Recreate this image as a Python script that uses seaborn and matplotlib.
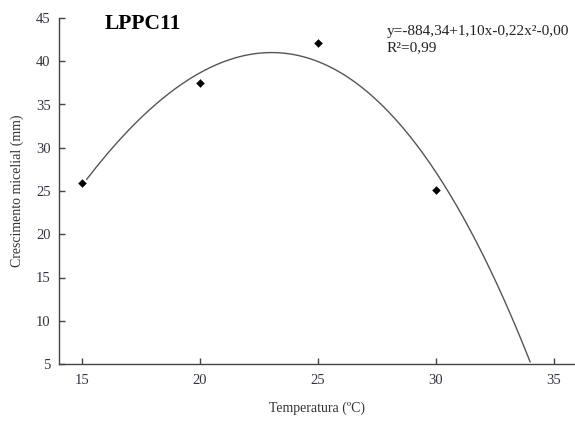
import numpy as np
import pandas as pd
import matplotlib
matplotlib.use("Agg")
import matplotlib.pyplot as plt
import seaborn as sns

temperatura = [15, 20, 25, 30]
crescimento = [25.9, 37.5, 42.1, 25.1]

# Fitted trend curve
curve_x = [15.2, 20.0, 22.67, 25.0, 30.0, 32.71, 34.0]
curve_y = [26.3, 38.8, 40.9, 39.9, 27.1, 13.9, 5.0]

x_ticks = [15, 20, 25, 30, 35]
y_ticks = [5, 10, 15, 20, 25, 30, 35, 40, 45]

title = "LPPC11"
equation = "y=-884,34+1,10x-0,22x²-0,00"
r2 = "R²=0,99"

sns.set_style("ticks")
plt.rcParams["font.family"] = ["Liberation Serif", "DejaVu Serif"]

fig = plt.figure(figsize=(5.75, 4.23), dpi=100)
ax = fig.add_axes([59/575, 1-364/423, 1-59/575, (364-18)/423])

# trend curve (cubic through the read curve points)
coef = np.polyfit(curve_x, curve_y, 3)
xs = np.linspace(curve_x[0], curve_x[-1], 200)
trend = pd.DataFrame({"x": xs, "y": np.polyval(coef, xs)})
sns.lineplot(data=trend, x="x", y="y", ax=ax, color="#555555", linewidth=1.0)

obs = pd.DataFrame({"t": temperatura, "c": crescimento})
sns.scatterplot(data=obs, x="t", y="c", ax=ax, marker="D", s=16,
                color="black", edgecolor="black", zorder=5)

ax.set_xlim(14.03, 35.9)
ax.set_ylim(5, 45)
ax.set_xticks(x_ticks)
ax.set_yticks(y_ticks)
sns.despine(ax=ax)
for sp in ["left", "bottom"]:
    ax.spines[sp].set_color("#444444")
    ax.spines[sp].set_linewidth(1.0)
ax.tick_params(direction="in", length=4, width=1, color="#444444",
               labelcolor="#333344", labelsize=10.5)
ax.tick_params(axis="x", pad=7)
ax.tick_params(axis="y", pad=6)

ax.set_xlabel("Temperatura (ºC)", fontsize=10, color="#333333")
ax.set_ylabel("Crescimento micelial (mm)", fontsize=10, color="#333333")
ax.xaxis.set_label_coords(0.5, -(402-364)/346)
ax.yaxis.set_label_coords(-(59-24)/516, 0.5)

fig.text(105/575, 1-24/423, title, fontsize=15.5, fontweight="bold",
         va="center", ha="left", color="black")
fig.text(387/575, 1-31/423, equation, fontsize=11, va="center", ha="left",
         color="#222222")
fig.text(387/575, 1-48/423, r2, fontsize=11, va="center", ha="left",
         color="#222222")

fig.savefig("out.png", dpi=100)
